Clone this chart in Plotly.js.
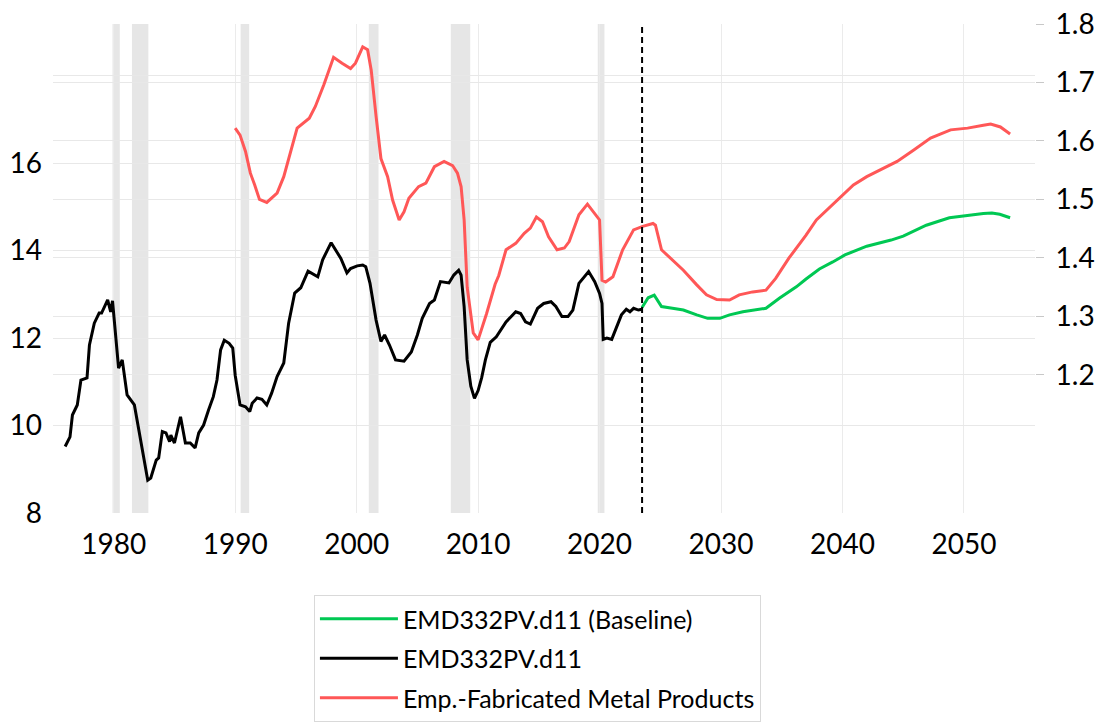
<!DOCTYPE html>
<html>
<head>
<meta charset="utf-8">
<script src="https://cdn.plot.ly/plotly-3.0.1.min.js"></script>
<style>html,body{margin:0;padding:0;background:#fff;}#chart{width:1095px;height:723px;}</style>
</head>
<body>
<div id="chart"></div>
<script>
// ---- data (decimal years) ----
const blackYears = [1976.0,1976.4,1976.6,1977.0,1977.3,1977.8,1978.0,1978.4,1978.8,1979.0,1979.5,1979.75,1979.9,1980.1,1980.4,1980.7,1981.1,1981.7,1982.1,1982.8,1983.05,1983.5,1983.7,1984.0,1984.3,1984.6,1984.7,1985.0,1985.5,1985.9,1986.3,1986.7,1987.0,1987.4,1987.8,1988.2,1988.5,1988.8,1989.1,1989.5,1989.8,1990.0,1990.4,1990.85,1991.2,1991.4,1991.8,1992.2,1992.6,1993.0,1993.45,1994.0,1994.4,1994.9,1995.4,1996.0,1996.8,1997.2,1997.9,1998.7,1999.2,1999.5,2000.05,2000.5,2000.75,2001.1,2001.6,2002.0,2002.3,2002.7,2003.2,2003.9,2004.5,2005.0,2005.4,2006.0,2006.4,2006.9,2007.6,2008.0,2008.4,2008.6,2008.85,2009.1,2009.4,2009.7,2010.0,2010.3,2010.6,2011.0,2011.5,2012.3,2013.1,2013.5,2013.9,2014.3,2014.9,2015.4,2016.0,2016.4,2016.9,2017.4,2017.8,2018.3,2019.1,2019.6,2020.0,2020.2,2020.3,2020.6,2021.0,2021.4,2021.8,2022.2,2022.5,2022.8,2023.2,2023.5];
const blackValues = [9.52,9.74,10.24,10.47,11.04,11.09,11.84,12.34,12.57,12.57,12.87,12.6,12.85,12.18,11.31,11.5,10.7,10.47,9.83,8.75,8.8,9.21,9.26,9.86,9.83,9.63,9.78,9.6,10.2,9.6,9.6,9.49,9.83,10.01,10.35,10.66,11.04,11.73,11.95,11.88,11.77,11.15,10.47,10.43,10.32,10.51,10.63,10.6,10.47,10.74,11.12,11.43,12.34,13.03,13.15,13.53,13.4,13.79,14.18,13.82,13.49,13.59,13.65,13.67,13.63,13.25,12.41,11.92,12.07,11.84,11.5,11.47,11.68,12.07,12.45,12.79,12.87,13.29,13.26,13.44,13.55,13.44,12.72,11.5,10.9,10.62,10.8,11.1,11.5,11.9,12.03,12.37,12.6,12.56,12.37,12.32,12.68,12.79,12.83,12.72,12.49,12.49,12.64,13.25,13.52,13.29,13.02,12.79,11.97,12.0,11.97,12.26,12.53,12.66,12.6,12.68,12.64,12.66];

const greenYears = [2023.5,2024.0,2024.5,2025.1,2026.0,2026.9,2028.0,2028.9,2029.9,2030.7,2031.8,2033.7,2034.8,2036.2,2037.0,2038.1,2039.2,2040.2,2042.0,2043.1,2044.0,2045.0,2046.9,2048.8,2050.1,2051.6,2052.3,2052.95,2053.8];
const greenValues = [12.7,12.92,12.98,12.72,12.68,12.64,12.53,12.45,12.45,12.53,12.6,12.68,12.91,13.17,13.35,13.58,13.74,13.9,14.1,14.17,14.24,14.33,14.58,14.75,14.8,14.85,14.86,14.83,14.75];

const redYears = [1990.0,1990.4,1990.85,1991.25,1991.6,1992.0,1992.6,1993.45,1994.0,1994.55,1995.1,1996.1,1996.6,1997.3,1998.1,1998.8,1999.5,1999.9,2000.5,2000.9,2001.2,2001.6,2002.0,2002.55,2002.96,2003.5,2003.9,2004.3,2005.1,2005.7,2006.4,2007.2,2007.9,2008.3,2008.6,2008.85,2009.1,2009.6,2010.0,2010.7,2011.4,2011.7,2012.3,2013.1,2013.8,2014.3,2014.8,2015.3,2015.8,2016.5,2017.1,2017.5,2018.3,2019.0,2019.7,2020.0,2020.2,2020.5,2021.1,2021.9,2022.8,2023.55,2024.4,2024.6,2025.1,2025.8,2026.9,2028.0,2028.8,2029.65,2030.7,2031.5,2032.6,2033.7,2034.5,2035.6,2036.5,2037.0,2037.85,2039.3,2040.2,2040.9,2042.0,2043.4,2044.5,2045.9,2047.25,2048.9,2050.3,2051.6,2052.2,2053.0,2053.8];
const redValues = [1.622,1.610,1.582,1.545,1.525,1.500,1.495,1.511,1.539,1.582,1.622,1.639,1.659,1.696,1.743,1.733,1.724,1.733,1.761,1.756,1.721,1.642,1.570,1.539,1.499,1.465,1.479,1.502,1.522,1.528,1.556,1.565,1.558,1.545,1.522,1.465,1.350,1.272,1.260,1.305,1.355,1.370,1.414,1.425,1.442,1.451,1.470,1.462,1.436,1.414,1.417,1.428,1.474,1.492,1.474,1.465,1.362,1.359,1.368,1.414,1.448,1.454,1.459,1.456,1.414,1.401,1.379,1.354,1.337,1.329,1.328,1.337,1.342,1.345,1.365,1.400,1.425,1.439,1.465,1.494,1.511,1.525,1.539,1.553,1.565,1.585,1.605,1.619,1.622,1.627,1.629,1.624,1.612];

const recessionStart = [1979.9,1981.5,1990.45,2001.0,2007.75,2019.85];
const recessionEnd   = [1980.5,1982.85,1991.15,2001.8,2009.35,2020.4];
const forecastStart = 2023.5;

const xTickVals = [1975,1980,1990,2000,2010,2020,2030,2040,2050];
const xTickText = ['','1980','1990','2000','2010','2020','2030','2040','2050'];
const yTickVals = [8,10,12,14,16,18];
const yTickText = ['8','10','12','14','16',''];
const y2TickVals = [1.2,1.3,1.4,1.5,1.6,1.7,1.8];
const y2TickText = ['1.2','1.3','1.4','1.5','1.6','1.7','1.8'];

const seriesNames = ['EMD332PV.d11 (Baseline)','EMD332PV.d11','Emp.-Fabricated Metal Products'];

// ---- build ----
const FONT = 'Lato, "Open Sans", sans-serif';
const traces = [
  {x: greenYears, y: greenValues, name: seriesNames[0], type: 'scatter', mode: 'lines',
   line: {color: '#00c853', width: 3}, yaxis: 'y', legendgroup: 'g1'},
  {x: blackYears, y: blackValues, name: seriesNames[1], type: 'scatter', mode: 'lines',
   line: {color: '#000000', width: 3}, yaxis: 'y', legendgroup: 'g2'},
  {x: redYears, y: redValues, name: seriesNames[2], type: 'scatter', mode: 'lines',
   line: {color: '#ff5757', width: 3}, yaxis: 'y2', legendgroup: 'g3'}
];

const shapes = recessionStart.map((s, i) => ({
  type: 'rect', xref: 'x', yref: 'paper', x0: s, x1: recessionEnd[i], y0: 0, y1: 1,
  fillcolor: '#e6e6e6', line: {width: 0}, layer: 'below'
}));
shapes.push({type: 'line', xref: 'x', yref: 'paper', x0: forecastStart, x1: forecastStart, y0: 0, y1: 1,
  line: {color: '#000', width: 2, dash: '6px,4px'}});

const layout = {
  width: 1095, height: 723,
  margin: {l: 53, r: 60, t: 24, b: 210, pad: 0, autoexpand: false},
  paper_bgcolor: '#fff', plot_bgcolor: '#fff',
  font: {family: FONT, size: 28, color: '#000'},
  showlegend: true,
  xaxis: {range: [1975, 2055.85], tickvals: xTickVals, ticktext: xTickText, showgrid: true,
    gridcolor: '#ebebeb', gridwidth: 1, zeroline: false, showline: false, ticks: '',
    tickfont: {family: FONT, size: 28, color: '#000'}, ticklabelstandoff: 12, automargin: false},
  yaxis: {range: [8, 19.18], tickvals: yTickVals, ticktext: yTickText, showgrid: true,
    gridcolor: '#e8e8e8', gridwidth: 1, zeroline: false, showline: false, ticks: '',
    tickfont: {family: FONT, size: 28, color: '#000'}, ticklabelstandoff: 10, automargin: false},
  yaxis2: {range: [0.964, 1.8], tickvals: y2TickVals, ticktext: y2TickText, overlaying: 'y', side: 'right',
    showgrid: true, gridcolor: '#e8e8e8', gridwidth: 1, zeroline: false, showline: false,
    ticks: 'outside', ticklen: 8, tickcolor: '#c8c8c8', tickwidth: 1,
    tickfont: {family: FONT, size: 28, color: '#000'}, ticklabelstandoff: 6, automargin: false},
  legend: {x: 0.2867, y: 0.1770, xref: 'container', yref: 'container', xanchor: 'left', yanchor: 'top',
    orientation: 'v', bordercolor: '#d9d9d9', borderwidth: 1, bgcolor: '#fff',
    font: {family: FONT, size: 25, color: '#000'}, traceorder: 'grouped', tracegroupgap: 4,
    itemwidth: 78},
  shapes: shapes
};

Plotly.newPlot('chart', traces, layout, {displayModeBar: false, staticPlot: true});
</script>
</body>
</html>
